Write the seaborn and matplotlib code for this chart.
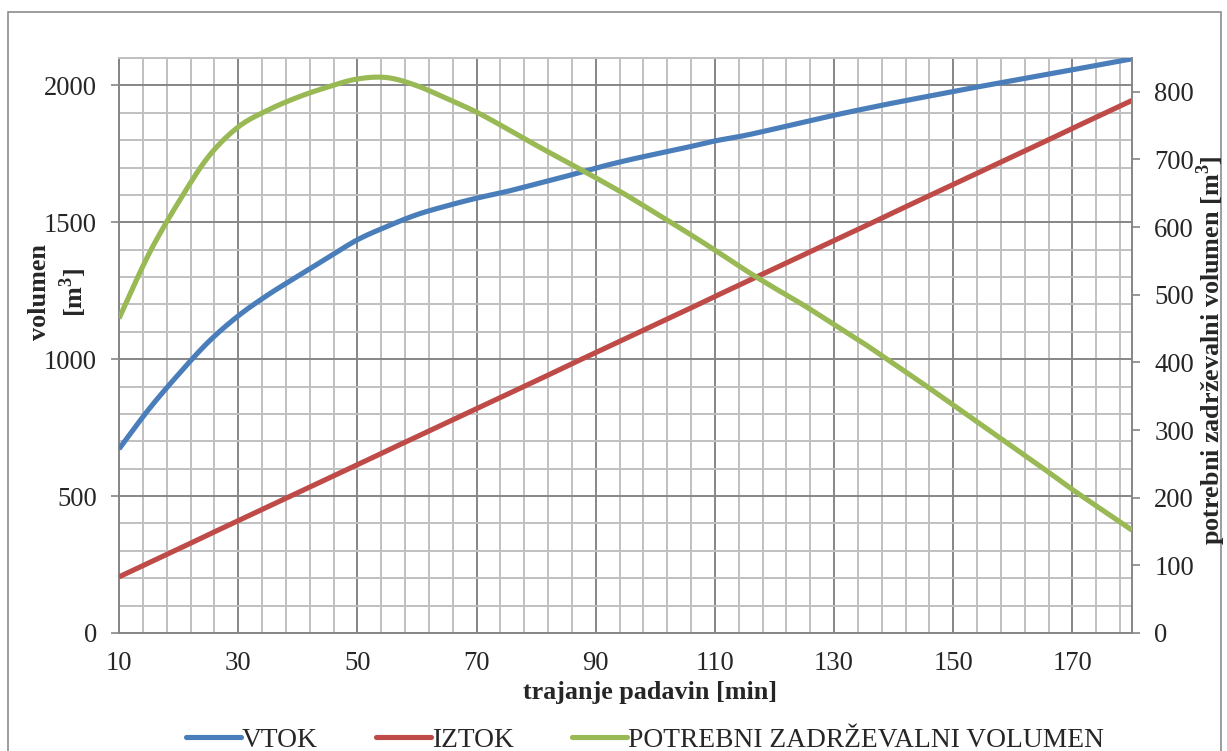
import numpy as np
import pandas as pd
import matplotlib
matplotlib.use("Agg")
import matplotlib.pyplot as plt
from matplotlib.patches import Rectangle
from matplotlib.lines import Line2D
import seaborn as sns

# rainfall duration [min]
trajanje = [10, 15, 20, 25, 30, 35, 40, 45, 50, 55, 60, 65, 70, 75, 80, 85, 90,
            95, 100, 105, 110, 115, 120, 125, 130, 135, 140, 145, 150, 155, 160,
            165, 170, 175, 180]

# inflow volume [m3] (left axis)
vtok = [672, 817, 945, 1063, 1158, 1235, 1303, 1370, 1436, 1485, 1528, 1560,
        1588, 1612, 1640, 1668, 1698, 1725, 1749, 1772, 1797, 1817, 1841, 1866,
        1891, 1914, 1936, 1957, 1978, 1998, 2018, 2038, 2057, 2077, 2097]

# outflow volume [m3] (left axis)
iztok = [205, 256, 307, 359, 410, 461, 512, 563, 614, 666, 717, 768, 819, 870,
         921, 973, 1024, 1075, 1126, 1177, 1229, 1280, 1331, 1382, 1433, 1484,
         1536, 1587, 1638, 1689, 1740, 1791, 1843, 1894, 1945]

# required retention volume [m3] (right axis)
potrebni = [465, 560, 637, 704, 748, 773, 792, 807, 819, 821, 809, 790, 770,
            746, 721, 697, 673, 648, 621, 594, 566, 537, 510, 484, 456, 428,
            398, 368, 337, 306, 275, 244, 212, 182, 152]

serije = ["VTOK", "IZTOK", "POTREBNI ZADRŽEVALNI VOLUMEN"]
barve = ["#4A7EBB", "#BE4B48", "#98B954"]


def smooth_line(x, y, steps=12):
    """Catmull-Rom curve through the points (smoothed-line rendering)."""
    x = np.asarray(x, float)
    y = np.asarray(y, float)
    px = np.concatenate([[2 * x[0] - x[1]], x, [2 * x[-1] - x[-2]]])
    py = np.concatenate([[2 * y[0] - y[1]], y, [2 * y[-1] - y[-2]]])
    xs, ys = [], []
    u = np.linspace(0, 1, steps, endpoint=False)
    for i in range(1, len(px) - 2):
        for p, out in ((px, xs), (py, ys)):
            p0, p1, p2, p3 = p[i - 1], p[i], p[i + 1], p[i + 2]
            out.extend(0.5 * (2 * p1 + (-p0 + p2) * u
                              + (2 * p0 - 5 * p1 + 4 * p2 - p3) * u ** 2
                              + (-p0 + 3 * p1 - 3 * p2 + p3) * u ** 3))
    xs.append(x[-1])
    ys.append(y[-1])
    return pd.DataFrame({"t": xs, "v": ys})


sns.set_style("white")
plt.rcParams["font.family"] = ["Liberation Serif", "DejaVu Serif"]
plt.rcParams["mathtext.fontset"] = "custom"
plt.rcParams["mathtext.rm"] = "Liberation Serif"
plt.rcParams["mathtext.bf"] = "Liberation Serif:bold"

FS = 19.2
W, H = 1227, 751
fig = plt.figure(figsize=(W / 100, H / 100), dpi=100)
ax = fig.add_axes([119 / W, 1 - 633 / H, (1132 - 119) / W, (633 - 58) / H])
ax2 = ax.twinx()

lw = 3.7
for vals, c, a in ((vtok, barve[0], ax), (iztok, barve[1], ax),
                   (potrebni, barve[2], ax2)):
    sns.lineplot(data=smooth_line(trajanje, vals), x="t", y="v", ax=a,
                 color=c, lw=lw, sort=False, estimator=None,
                 solid_capstyle="butt", zorder=3, legend=False)

major_c = "#868686"
minor_c = "#C0C0C0"

# left axis + grid
ax.set_xlim(10, 180)
ax.set_ylim(0, 2100)
ax.set_xticks(np.arange(10, 180, 20))
ax.set_xticks(np.arange(10, 181, 4), minor=True)
ax.set_yticks(np.arange(0, 2001, 500))
ax.set_yticks(np.arange(0, 2101, 100), minor=True)
ax.grid(which="minor", color=minor_c, lw=1.4, zorder=0)
ax.grid(which="major", color=major_c, lw=1.4, zorder=0)
ax.set_axisbelow(True)
ax.tick_params(axis="both", which="major", direction="out", length=6,
               width=1.2, color=major_c, labelsize=FS, pad=10)
ax.tick_params(axis="x", which="major", pad=7)
ax.tick_params(axis="both", which="minor", length=0)
ax.set_xlabel("")
ax.set_ylabel("")

for s in ["left", "bottom"]:
    ax.spines[s].set_color(major_c)
    ax.spines[s].set_linewidth(1.4)
ax.spines["top"].set_color(minor_c)
ax.spines["top"].set_linewidth(1.4)
ax.spines["right"].set_visible(False)

# right axis
ax2.set_ylim(0, 850)
ax2.set_yticks(np.arange(0, 801, 100))
ax2.grid(False)
ax2.tick_params(axis="y", direction="out", length=6, width=1.2,
                color=major_c, labelsize=FS, pad=10)
ax2.set_ylabel("")
for s in ["left", "top", "bottom"]:
    ax2.spines[s].set_visible(False)
ax2.spines["right"].set_color(major_c)
ax2.spines["right"].set_linewidth(1.4)

# axis titles
fig.text(650 / W, 1 - 692 / H, "trajanje padavin [min]", ha="center",
         va="center", fontsize=18.8, fontweight="bold")
fig.text(40 / W, 1 - 292 / H, "volumen", ha="center", va="center",
         rotation=90, fontsize=18.8, fontweight="bold")
fig.text(73 / W, 1 - 292 / H, r"[m$^\mathbf{3}$]", ha="center", va="center",
         rotation=90, fontsize=18.8, fontweight="bold")
fig.text(1211 / W, 1 - 350 / H, r"potrebni zadrževalni volumen [m$^\mathbf{3}$]",
         ha="center", va="center", rotation=90, fontsize=18.8,
         fontweight="bold")

# legend
handles = [Line2D([0], [0], color=c, lw=lw, solid_capstyle="round") for c in barve]
fig.legend(handles, serije, loc="center", bbox_to_anchor=(645 / W, 1 - 740 / H),
           ncol=3, frameon=False, fontsize=19.8, handlelength=2.0,
           handletextpad=0.05, columnspacing=2.1)

# chart border
fig.patches.append(Rectangle((8 / W, -0.05), (1221 - 8) / W, 1 - 12 / H + 0.05,
                             transform=fig.transFigure, fill=False,
                             edgecolor="#8C8C8C", lw=1.2, clip_on=False))

fig.savefig("out.png", dpi=100)
